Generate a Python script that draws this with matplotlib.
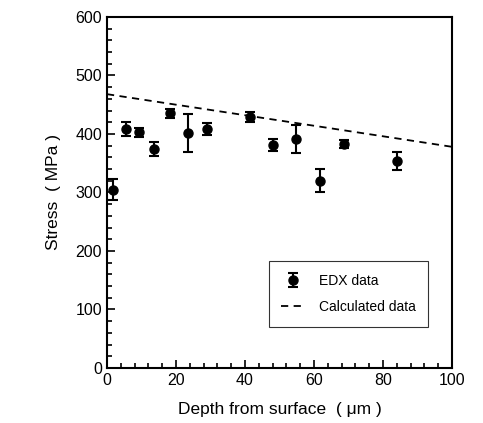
import numpy as np
import matplotlib
matplotlib.use("Agg")
import matplotlib.pyplot as plt
from matplotlib.ticker import MultipleLocator

plt.rcParams['font.family'] = ['Liberation Sans', 'DejaVu Sans']

# EDX measurements
depth = [1.7, 5.5, 9.2, 13.5, 18.3, 23.5, 29.0, 41.4, 48.0, 54.9, 61.7, 68.8, 84.0]
stress = [305, 408, 403, 374, 435, 402, 408, 429, 381, 391, 320, 383, 354]
stress_err = [18, 12, 8, 12, 8, 32, 10, 8, 10, 24, 20, 7, 16]

# calculated line
calc_depth = [0, 100]
calc_stress = [468, 378]

fig = plt.figure(figsize=(4.83, 4.23), dpi=100)
ax = fig.add_axes([0.2215, 0.130, 0.7145, 0.830])

edx = ax.errorbar(depth, stress, yerr=stress_err, fmt='o', color='black',
                  markersize=6.5, capsize=3.5, elinewidth=1.5, capthick=1.5,
                  label='EDX data')
calc, = ax.plot(calc_depth, calc_stress, '--', color='black', linewidth=1.3,
                dashes=(4, 3), label='Calculated data')

ax.set_xlim(0, 100)
ax.set_ylim(0, 600)
ax.xaxis.set_major_locator(MultipleLocator(20))
ax.xaxis.set_minor_locator(MultipleLocator(4))
ax.yaxis.set_major_locator(MultipleLocator(100))
ax.yaxis.set_minor_locator(MultipleLocator(20))
ax.tick_params(which='both', direction='in', top=False, right=False,
               labelsize=11.5, width=1.2)
ax.tick_params(which='major', length=6)
ax.tick_params(which='minor', length=3.5)
for s in ax.spines.values():
    s.set_linewidth(1.5)

ax.set_xlabel('Depth from surface  ( μm )', fontsize=12.5, labelpad=10)
ax.set_ylabel('Stress  ( MPa )', fontsize=12.5, labelpad=10)

leg = ax.legend([edx, calc], ['EDX data', 'Calculated data'],
                loc='lower right', bbox_to_anchor=(0.95, 0.098),
                fontsize=10, frameon=True, fancybox=False,
                edgecolor='black', handlelength=1.7, handletextpad=1.0,
                borderpad=0.9, labelspacing=0.9)
leg.get_frame().set_linewidth(0.8)

fig.savefig('out.png', dpi=100)
